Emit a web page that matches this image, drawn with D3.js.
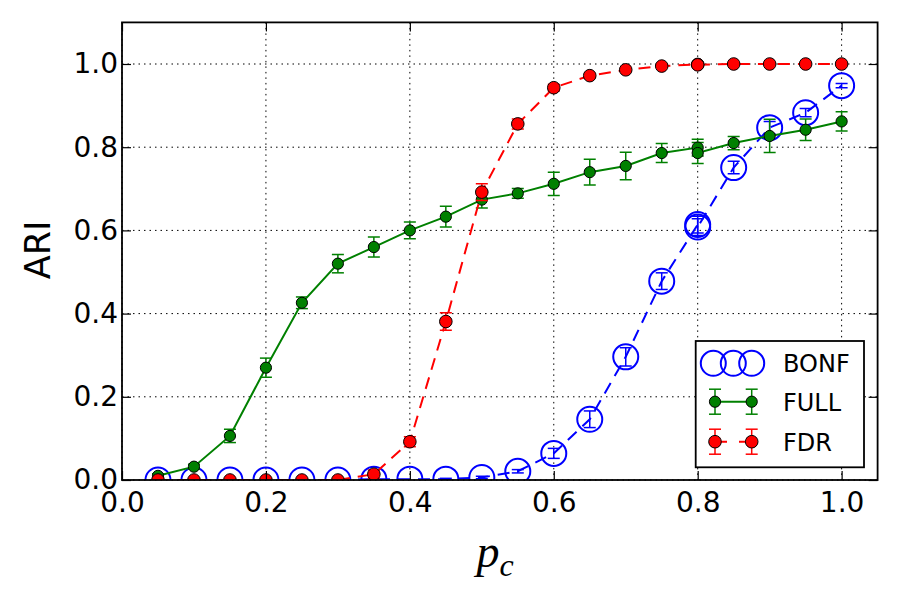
<!DOCTYPE html>
<html><head><meta charset="utf-8">
<script src="https://cdn.jsdelivr.net/npm/d3@7"></script>
<style>body{margin:0;background:#fff}svg{display:block}</style>
</head><body>
<svg id="c" width="900" height="600"></svg>
<script>
const pc = [0.05,0.10,0.15,0.20,0.25,0.30,0.35,0.40,0.45,0.50,0.55,0.60,0.65,0.70,0.75,0.80,0.80,0.85,0.90,0.95,1.00];
const full = [0.010,0.032,0.106,0.270,0.426,0.520,0.560,0.600,0.633,0.674,0.689,0.712,0.740,0.755,0.786,0.799,0.786,0.810,0.827,0.842,0.862];
const fullErr = [0.005,0.006,0.016,0.023,0.014,0.022,0.024,0.020,0.025,0.020,0.012,0.028,0.031,0.033,0.023,0.020,0.025,0.016,0.040,0.026,0.023];
const fdr = [0,0,0,0,0,0,0.014,0.092,0.381,0.692,0.856,0.943,0.972,0.986,0.995,0.999,0.998,1,1,1,1];
const fdrErr = [0,0,0,0,0,0,0.010,0.012,0.021,0.020,0.012,0.008,0.005,0.004,0.003,0.002,0.002,0,0,0,0];
const bonf = [0,0,0,0,0,0,0.002,0.002,0.002,0.006,0.021,0.064,0.146,0.296,0.478,0.614,0.608,0.751,0.847,0.883,0.948];
const bonfErr = [0,0,0,0,0,0,0,0,0.002,0.003,0.004,0.012,0.020,0.022,0.020,0.020,0.020,0.015,0.015,0.010,0.005];
const xTicks = [0,0.2,0.4,0.6,0.8,1.0];
const yTicks = [0,0.2,0.4,0.6,0.8,1.0];
const seriesNames = ["BONF","FULL","FDR"];

const svg = d3.select("#c");
const L=122, R=877.6, T=22.4, B=480;
const x = d3.scaleLinear().domain([0,1.05]).range([L,R]);
const y = d3.scaleLinear().domain([0,1.1]).range([B,T]);
const FONT = "'DejaVu Sans', sans-serif";
const BLUE="#0000ff", GREEN="#008000", RED="#ff0000";

svg.append("defs").append("clipPath").attr("id","clip")
  .append("rect").attr("x",L).attr("y",T).attr("width",R-L).attr("height",B-T);

// grid
const grid = svg.append("g");
grid.selectAll("line.gx").data(xTicks).join("line")
  .attr("x1",d=>x(d)).attr("x2",d=>x(d)).attr("y1",T).attr("y2",B)
  .attr("stroke","#000").attr("stroke-width",1).attr("stroke-dasharray","1.5,4");
grid.selectAll("line.gy").data(yTicks).join("line")
  .attr("y1",d=>y(d)).attr("y2",d=>y(d)).attr("x1",L).attr("x2",R)
  .attr("stroke","#000").attr("stroke-width",1).attr("stroke-dasharray","1.5,4");

const idx = d3.range(pc.length);
const plot = svg.append("g").attr("clip-path","url(#clip)");

function errorbars(g, vals, errs, color){
  const eb = g.append("g").attr("stroke",color).attr("stroke-width",1.5);
  idx.forEach(i=>{
    if(errs[i]<=0) return;
    const cx=x(pc[i]), y1=y(vals[i]-errs[i]), y2=y(vals[i]+errs[i]);
    eb.append("line").attr("x1",cx).attr("x2",cx).attr("y1",y1).attr("y2",y2);
    eb.append("line").attr("x1",cx-6).attr("x2",cx+6).attr("y1",y1).attr("y2",y1);
    eb.append("line").attr("x1",cx-6).attr("x2",cx+6).attr("y1",y2).attr("y2",y2);
  });
}
const line = v => d3.line().x(i=>x(pc[i])).y(i=>y(v[i]));

// BONF scatter (open circles)
plot.append("g").selectAll("circle").data(idx).join("circle")
  .attr("cx",i=>x(pc[i])).attr("cy",i=>y(bonf[i])).attr("r",12.5)
  .attr("fill","none").attr("stroke",BLUE).attr("stroke-width",2);
// BONF dashed line with error bars
plot.append("path").attr("d",line(bonf)(idx)).attr("fill","none")
  .attr("stroke",BLUE).attr("stroke-width",2).attr("stroke-dasharray","12,8");
errorbars(plot,bonf,bonfErr,BLUE);

// FULL
plot.append("path").attr("d",line(full)(idx)).attr("fill","none")
  .attr("stroke",GREEN).attr("stroke-width",2);
errorbars(plot,full,fullErr,GREEN);
plot.append("g").selectAll("circle").data(idx).join("circle")
  .attr("cx",i=>x(pc[i])).attr("cy",i=>y(full[i])).attr("r",5.6)
  .attr("fill",GREEN).attr("stroke","#000").attr("stroke-width",1);

// FDR
plot.append("path").attr("d",line(fdr)(idx)).attr("fill","none")
  .attr("stroke",RED).attr("stroke-width",2).attr("stroke-dasharray","12,8");
errorbars(plot,fdr,fdrErr,RED);
plot.append("g").selectAll("circle").data(idx).join("circle")
  .attr("cx",i=>x(pc[i])).attr("cy",i=>y(fdr[i])).attr("r",6.3)
  .attr("fill",RED).attr("stroke","#000").attr("stroke-width",1);

// axes
const fmt = d3.format(".1f");
const ax = svg.append("g").attr("transform",`translate(0,${B})`)
  .call(d3.axisBottom(x).tickValues(xTicks).tickFormat(fmt).tickSizeInner(-9).tickSizeOuter(0).tickPadding(12.6));
const ay = svg.append("g").attr("transform",`translate(${L},0)`)
  .call(d3.axisLeft(y).tickValues(yTicks).tickFormat(fmt).tickSizeInner(-9).tickSizeOuter(0).tickPadding(4));
const at = svg.append("g").attr("transform",`translate(0,${T})`)
  .call(d3.axisTop(x).tickValues(xTicks).tickFormat("").tickSizeInner(-9).tickSizeOuter(0));
const ar = svg.append("g").attr("transform",`translate(${R},0)`)
  .call(d3.axisRight(y).tickValues(yTicks).tickFormat("").tickSizeInner(-9).tickSizeOuter(0));
[ax,ay,at,ar].forEach(g=>{
  g.select(".domain").remove();
  g.selectAll(".tick line").attr("stroke","#000").attr("stroke-width",1.2);
  g.selectAll("text").attr("font-family",FONT).attr("font-size",28).attr("fill","#000");
});
svg.append("rect").attr("x",L).attr("y",T).attr("width",R-L).attr("height",B-T)
  .attr("fill","none").attr("stroke","#000").attr("stroke-width",1.8);

// labels
svg.append("text").attr("transform","translate(50,250) rotate(-90)")
  .attr("text-anchor","middle").attr("font-family",FONT).attr("font-size",35).text("ARI");
const xl = svg.append("text").attr("x",495).attr("y",567).attr("text-anchor","middle")
  .attr("font-family","'Liberation Serif', 'DejaVu Serif', serif").attr("font-style","italic").attr("font-size",46);
xl.append("tspan").text("p");
xl.append("tspan").attr("font-size",32).attr("dy",9).text("c");

// legend
const lg = svg.append("g");
lg.append("rect").attr("x",695.7).attr("y",341).attr("width",168.3).attr("height",126.3)
  .attr("fill","#fff").attr("stroke","#000").attr("stroke-width",1.8);
const ly = [363.3,401.7,441.7];
[713.3,733.3,751.7].forEach(cx=>lg.append("circle").attr("cx",cx).attr("cy",ly[0]).attr("r",12.5)
  .attr("fill","none").attr("stroke",BLUE).attr("stroke-width",2));
function legErr(cy,color,r,dash){
  lg.append("line").attr("x1",715).attr("x2",751.7).attr("y1",cy).attr("y2",cy)
    .attr("stroke",color).attr("stroke-width",2).attr("stroke-dasharray",dash);
  [715,751.7].forEach(cx=>{
    const g=lg.append("g").attr("stroke",color).attr("stroke-width",1.5);
    g.append("line").attr("x1",cx).attr("x2",cx).attr("y1",cy-12.5).attr("y2",cy+12.5);
    g.append("line").attr("x1",cx-6).attr("x2",cx+6).attr("y1",cy-12.5).attr("y2",cy-12.5);
    g.append("line").attr("x1",cx-6).attr("x2",cx+6).attr("y1",cy+12.5).attr("y2",cy+12.5);
    lg.append("circle").attr("cx",cx).attr("cy",cy).attr("r",r).attr("fill",color).attr("stroke","#000").attr("stroke-width",1);
  });
}
legErr(ly[1],GREEN,5.6,null);
legErr(ly[2],RED,6.3,"12,12");
seriesNames.forEach((s,i)=>lg.append("text").attr("x",783).attr("y",ly[i]+8.8)
  .attr("font-family",FONT).attr("font-size",24).text(s));
</script>
</body></html>
